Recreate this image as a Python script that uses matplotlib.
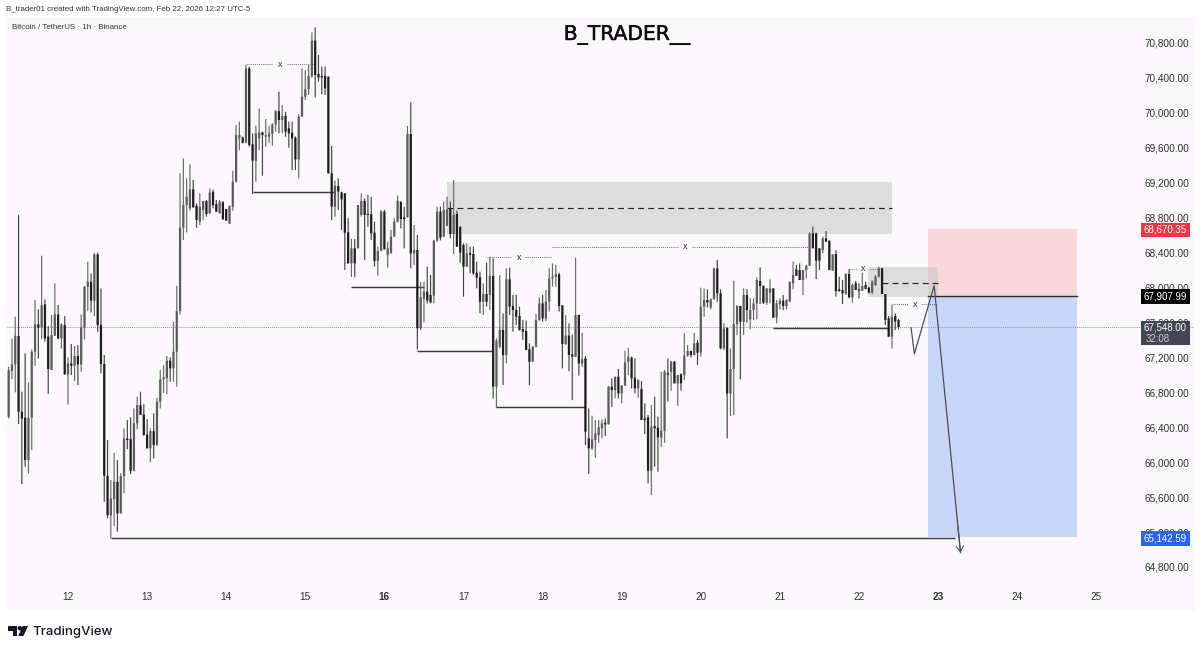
import matplotlib
matplotlib.use("Agg")
import matplotlib.pyplot as plt
import matplotlib.patheffects as pe
from matplotlib.patches import Rectangle, Polygon, Ellipse
from matplotlib.ticker import FixedLocator, FuncFormatter

W, H = 1200, 651

opens = [
66520,67043,67120,67444,66578,66509,66024,66509,67265,67578,
67543,67807,67437,67055,67448,67692,67417,67570,67005,67131,
67104,67215,67120,67543,68009,68066,67849,68380,67570,67124,
65845,65394,65578,65776,65413,65841,66272,66265,65902,66444,
66654,66547,66318,66158,66356,66196,66692,66948,66960,67162,
67074,67265,67730,68685,68944,68906,69124,68937,68754,68887,
68990,68849,69097,68956,68849,68975,68899,68735,68925,69212,
69708,69716,69658,70509,69640,69452,69708,69777,69727,69727,
69758,69868,70021,69918,69964,69822,69773,69716,69467,69956,
70185,70269,70422,70826,70445,70422,70422,70414,69308,68926,
69163,69090,69079,68632,68277,68449,68449,68831,68991,68842,
68838,68628,68304,68418,68869,68373,68392,68582,68754,68983,
68804,68804,69758,68392,68430,67533,67869,67953,67915,67907,
68537,68869,68582,68708,68899,68613,68842,68690,68487,68239,
68392,68384,68170,68117,67838,67926,67915,68132,66865,67323,
67514,67228,68094,67789,67743,67674,67521,67502,67292,67151,
67323,67628,67819,67647,67838,68105,68121,68151,67796,67353,
67449,67235,67208,67685,67132,67189,66273,66158,66254,66311,
66387,66452,66433,66864,66826,66979,66788,66876,67148,67197,
66968,66845,66838,66502,66513,65903,66414,66395,66284,66361,
67018,67036,67151,66903,67006,66998,67220,67273,67227,67368,
67254,67781,67857,67773,67864,68220,67933,67303,67540,66788,
67067,67582,67788,67609,67914,67636,67742,67819,68074,68021,
67826,67941,67990,67655,67811,67849,67788,67838,68048,68208,
68200,68086,68200,68250,68620,68620,68449,68429,68563,68536,
68193,68384,67980,67971,67933,68155,67888,68048,67979,67964,
68029,67998,67941,68029,68124,68220,67926,67647,67437,67674,67628]
closes = [
67055,67120,67448,66578,66500,66024,66509,67265,67578,67543,
67799,67417,67066,67456,67692,67417,67578,67005,67131,67104,
67215,67120,67543,68009,68066,67849,68380,67570,67124,65845,
65394,65585,65776,65413,65841,66272,66253,65902,66444,66654,
66540,66311,66158,66356,66196,66692,66948,66971,67162,67074,
67265,67730,68685,68944,69040,69124,68918,68773,68925,68990,
68841,69086,68944,68868,68983,68780,68765,68933,69212,69746,
69746,69658,70509,69632,69452,69765,69777,69746,69746,69765,
69868,70021,69918,69964,69784,69765,69708,69467,69956,70185,
70269,70422,70826,70433,70406,70406,70280,69307,68926,69166,
69098,69010,68628,68277,68449,68277,68945,68991,68831,68831,
68621,68304,68418,68869,68437,68449,68582,68754,68991,68785,
68785,69758,68392,68430,67533,67888,67953,67850,67831,68537,
68869,68571,68888,68895,68613,68831,68468,68400,68239,68392,
68373,68163,68113,67838,67926,67838,68132,66865,67392,67514,
67228,68094,67781,67743,67666,67514,67495,67285,67151,67323,
67628,67819,67647,67838,68105,68125,68151,67789,67353,67449,
67228,67208,67685,67132,67178,66349,66158,66261,66330,66399,
66445,66433,66864,66826,66979,66788,66876,67143,67208,66960,
66845,66945,66483,66483,65903,66406,66387,66284,66361,67036,
67000,67151,66903,66998,66903,67220,67273,67227,67361,67254,
67781,67857,67830,67864,68220,67933,67303,67532,66788,67067,
67582,67788,67609,67914,67742,67742,67819,68086,68017,67826,
67990,67990,67655,67819,67849,67788,67857,68059,68143,68135,
68086,68200,68250,68620,68449,68307,68307,68563,68525,68200,
68380,67960,67960,67933,68155,67888,68029,67971,67964,68017,
67983,67941,68067,68124,68220,67926,67628,67437,67666,67609,67548]
highs = [
67093,67417,67666,68830,66807,67246,66914,67292,67856,67750,
68364,67864,67559,67685,68047,67799,67589,67673,67200,67353,
67330,67341,67692,68017,68296,68162,68399,68402,67990,67227,
66253,65795,66108,66024,65872,66387,66482,66513,66616,66750,
66807,66662,66494,66387,66559,66738,67055,67112,67215,67200,
67608,68021,69307,69479,69250,69410,69231,68964,69078,68990,
69002,69135,69120,69002,69002,68990,68899,68940,69338,69861,
69899,69730,70548,70529,69765,69853,70051,69784,69929,69853,
69880,70032,70242,70090,70013,69899,69899,69730,69987,70509,
70490,70548,70922,70979,70662,70529,70529,70414,69621,69224,
69250,69098,69079,68793,68556,68556,68945,69079,69021,69060,
69040,68754,68468,68888,68888,68525,68659,68793,69052,68983,
68926,69850,70121,68716,68602,68065,68067,68239,68144,68544,
68926,68926,68983,69040,68983,69231,68880,68704,68506,68506,
68468,68468,68296,68182,68048,68285,68353,68334,67420,68144,
67705,68220,68228,67915,67915,67781,67628,67621,67361,67330,
67697,67888,67915,67972,68220,68277,68258,68170,67796,67686,
67590,67460,68342,67690,67483,67216,66616,66532,66483,66483,
66490,66500,66872,66960,66979,67067,66884,67277,67311,67208,
67189,66945,66929,66674,66540,66655,66750,66521,67036,67055,
67189,67158,67158,66998,67017,67475,67342,67277,67483,67399,
67998,67990,67979,67876,68227,68315,67979,67590,67540,67303,
68078,67800,67792,67990,67983,67876,67876,68116,68231,68021,
67990,68093,67990,67857,67876,67914,67868,68074,68296,68258,
68277,68200,68258,68632,68697,68628,68449,68582,68647,68540,
68380,68429,68124,68086,68162,68212,68048,68074,68048,68170,
68067,68010,68086,68143,68239,68227,67926,67674,67800,67704,67640]
lows = [
66500,66950,66800,66437,65750,65948,65872,66139,67104,67188,
67410,67379,66780,67055,67448,67410,67303,67005,66662,66998,
66929,66883,67036,67406,67734,67715,67673,67494,67017,65547,
65356,65127,65269,65204,65413,65643,66150,65864,65898,66375,
66540,66303,66158,65998,66043,66188,66616,66795,66780,66921,
66921,66864,67692,68544,68632,68880,68918,68685,68715,68773,
68811,68849,68906,68868,68849,68780,68765,68727,68880,69204,
69574,69650,69651,69613,69071,69212,69574,69280,69613,69658,
69624,69784,69765,69765,69727,69601,69345,69345,69250,69956,
70147,70204,70400,70177,70357,70212,70204,69307,68773,68812,
68888,68659,68201,68277,68120,68117,68449,68812,68315,68697,
68544,68239,68136,68418,68437,68227,68392,68582,68746,68678,
68449,68804,68220,68258,67292,67514,67602,67819,67819,67819,
68525,68540,68582,68708,68563,68384,68468,68285,67895,68239,
68163,68144,67991,67705,67686,67781,67743,66731,66624,67304,
66884,67132,67686,67495,67571,67506,67399,67285,66884,67151,
67315,67620,67609,67617,67724,68010,68010,67724,67075,67342,
67044,66712,67208,66991,67093,66196,65864,66139,66051,66223,
66273,66300,66433,66635,66731,66731,66674,66876,66997,66845,
66788,66738,66483,66322,65757,65624,65948,65891,66177,66223,
66693,66819,66903,66647,66819,66941,67208,67200,67227,67113,
67208,67666,67773,67750,67864,67838,67292,67284,66273,66529,
66540,67456,66948,67456,67597,67521,67628,67636,67811,67811,
67800,67819,67655,67590,67750,67742,67750,67838,67979,68135,
68086,67914,68105,68250,68449,68097,68200,68391,68525,68200,
68193,67895,67950,67811,67914,67876,67826,67971,67876,67960,
67983,67933,67925,68017,68116,67926,67571,67437,67303,67513,67520]

price_ticks = [70800,70400,70000,69600,69200,68800,68400,68000,67600,67200,66800,66400,66000,65600,65200,64800]
day_labels = ['12','13','14','15','16','17','18','19','20','21','22','23','24','25']
day_bars = [18,42,66,90,114,138,162,186,210,234,258,282,306,330]
bold_days = ['16','23']

supply_zones = [(133, 268, 68613, 69208, 68911, 133), (260.7, 282.1, 67892, 68235, 68050, 265)]
entry_price, stop_price, target_price, last_price = 67907.99, 68670.35, 65142.59, 67548.00
position_bars = (279, 324.2)
solid_levels = [(74, 99, 69097), (104, 126, 68002), (124, 147, 67273), (148, 175, 66628),
                (232, 267, 67532), (31, 287, 65130)]
swept_levels = [(72, 93, 70555, 82.3), (145, 165, 68346, 154.8), (165, 243, 68468, 205.2),
                (255, 264, 68216, 259.3), (268, 281.6, 67808, 274.9)]
path_bars = [273.8, 274.8, 280.8, 288.8]
path_prices = [67540, 67240, 68021, 64964]

plt.rcParams['font.family'] = ['Liberation Sans', 'DejaVu Sans']
fig = plt.figure(figsize=(W/100, H/100), dpi=100, facecolor='white')
L, T, R, B = 6.5, 17, 1193.5, 611
ax = fig.add_axes([L/W, 1-B/H, (R-L)/W, (B-T)/H], facecolor='#faf8fa')
bar_px = 79.1/24
ax.set_xlim((L-68)/bar_px+18, (R-68)/bar_px+18)
px_price = 6000/524
ax.set_ylim(70800-(B-43)*px_price, 70800-(T-43)*px_price)
for s in ax.spines.values():
    s.set_visible(False)

xs = list(range(len(opens)))
is_up = [c >= o for o, c in zip(opens, closes)]
wick_col = ['#6a6a6a' if u else '#444444' for u in is_up]
body_col = ['#5c5c5c' if u else '#1e1e1e' for u in is_up]
wicks = ax.vlines(xs, lows, highs, colors=wick_col, lw=0.85, zorder=4)
wicks.set_snap(False)
bars = ax.bar(xs, [max(abs(c-o), 12) for o, c in zip(opens, closes)],
              bottom=[min(o, c) for o, c in zip(opens, closes)],
              width=0.68, color=body_col, linewidth=0, zorder=4.1)
for b in bars:
    b.set_snap(False)

# position tool
ax.add_patch(Rectangle((position_bars[0], entry_price), position_bars[1]-position_bars[0], stop_price-entry_price,
                       fc='#fad7da', ec='none', zorder=1))
ax.add_patch(Rectangle((position_bars[0], target_price), position_bars[1]-position_bars[0], entry_price-target_price,
                       fc='#c8d6f7', ec='none', zorder=1))
ax.plot(position_bars, [entry_price]*2, color='#2a2a2a', lw=1.0, zorder=3)

# zones
for x0, x1, lo, hi, mid, dash0 in supply_zones:
    ax.add_patch(Rectangle((x0, lo), x1-x0, hi-lo, fc='#c8c8c8', alpha=0.55, ec='none', zorder=2))
    ax.plot([dash0, x1], [mid, mid], color='#222222', lw=0.85, ls=(0, (5, 3.5)), zorder=3)

# last price line
ax.axhline(last_price, color='#9a9a9a', lw=0.7, ls=(0, (1, 1)), zorder=2.2)

for x0, x1, p in solid_levels:
    ax.plot([x0, x1], [p, p], color='#3c3c3c', lw=1.05, zorder=3.5, solid_capstyle='butt')
for x0, x1, p, xm in swept_levels:
    ax.plot([x0, xm-2], [p, p], color='#777777', lw=0.75, ls=(0, (1, 1)), zorder=3.5)
    ax.plot([xm+2, x1], [p, p], color='#777777', lw=0.75, ls=(0, (1, 1)), zorder=3.5)
    ax.text(xm, p, 'x', ha='center', va='center', fontsize=6.5, color='#333333', zorder=5)

ax.plot(path_bars, path_prices, color='#4a4f5c', lw=0.9, zorder=4.5)
tail_x = path_bars[-2] + 0.9*(path_bars[-1]-path_bars[-2])
tail_y = path_prices[-2] + 0.9*(path_prices[-1]-path_prices[-2])
ax.annotate('', xy=(path_bars[-1], path_prices[-1]), xytext=(tail_x, tail_y),
            arrowprops=dict(arrowstyle='->,head_length=0.45,head_width=0.3', color='#4a4f5c', lw=0.8,
                            mutation_scale=9, shrinkA=0, shrinkB=0), zorder=4.5)

# axes
ax.yaxis.tick_right()
ax.yaxis.set_major_locator(FixedLocator(price_ticks))
ax.yaxis.set_major_formatter(FuncFormatter(lambda v, _: f'{v:,.2f}'))
ax.tick_params(axis='y', length=0, pad=-35.5, labelsize=7.2, labelcolor='#2f2f2f')
ax.set_xticks(day_bars)
ax.set_xticklabels(day_labels)
ax.tick_params(axis='x', length=0, pad=-13.5, labelsize=7.2, labelcolor='#2f2f2f')
for t in ax.get_xticklabels():
    if t.get_text() in bold_days:
        t.set_fontweight('bold')

def tag(p_top_px, p_bot_px, col, txt, sub=None):
    x0 = (1140.7-68)/bar_px+18
    x1 = (1190-68)/bar_px+18
    y0 = 70800-(p_bot_px-43)*px_price
    y1 = 70800-(p_top_px-43)*px_price
    ax.add_patch(Rectangle((x0, y0), x1-x0, y1-y0, fc=col, ec='none', zorder=6))
    if sub is None:
        ax.text((x0+x1)/2, (y0+y1)/2, txt, color='white', fontsize=7.0, ha='center', va='center', zorder=7)
    else:
        ym = (y0+y1)/2
        ax.text((x0+x1)/2, ym+65, txt, color='white', fontsize=7.0, ha='center', va='center', zorder=7)
        ax.text(x0+1.5, ym-65, sub, color='#c8cad0', fontsize=7.0, ha='left', va='center', zorder=7)

tag(222.7, 236.7, '#f23645', f'{stop_price:,.2f}')
tag(289, 303.7, '#000000', f'{entry_price:,.2f}')
tag(320.7, 345, '#434651', f'{last_price:,.2f}', '32:08')
tag(531, 545.5, '#2962ff', f'{target_price:,.2f}')

# text
fig.text(6/W, 1-9.5/H, 'B_trader01 created with TradingView.com, Feb 22, 2026 12:27 UTC-5',
         fontsize=5.7, color='#333333', va='center', ha='left')
fig.text(12/W, 1-27.5/H, 'Bitcoin / TetherUS · 1h · Binance', fontsize=5.7, color='#333333', va='center', ha='left')
title = fig.text(627/W, 1-35.5/H, 'B_TRADER__', fontsize=14.6, family='DejaVu Sans',
                 color='#0d0d0d', va='center', ha='center')
title.set_path_effects([pe.withStroke(linewidth=0.35, foreground='#0d0d0d')])

# logo
def P(pts):
    return [(x/W, 1-y/H) for x, y in pts]
fig.patches.append(Polygon(P([(8, 626), (17.2, 626), (17.2, 636), (12.6, 636), (12.6, 630.6), (8, 630.6)]),
                           transform=fig.transFigure, fc='#131722', ec='none'))
fig.patches.append(Polygon(P([(22.6, 626), (28, 626), (23.4, 636), (18.2, 636)]),
                           transform=fig.transFigure, fc='#131722', ec='none'))
fig.patches.append(Ellipse((19.8/W, 1-628.2/H), 4.4/W, 4.4/H, transform=fig.transFigure, fc='#131722', ec='none'))
fig.text(32.8/W, 1-631.5/H, 'TradingView', fontsize=9.5, family='Inter', fontweight='medium',
         color='#131722', ha='left', va='center')

fig.savefig('out.png', dpi=100, facecolor='white')
